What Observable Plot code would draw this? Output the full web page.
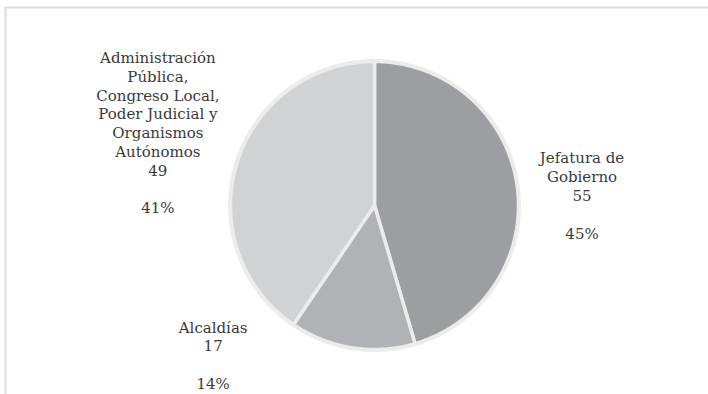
<!DOCTYPE html>
<html><head><meta charset="utf-8">
<script src="https://cdn.jsdelivr.net/npm/d3@7"></script>
<script src="https://cdn.jsdelivr.net/npm/@observablehq/plot@0.6"></script>
<style>body{margin:0;background:#fff}#chart svg{display:block}</style>
</head><body><div id="chart"></div>
<script>
// ---- data ----
const keys = ["Jefatura", "Alcaldias", "Admin"];
const categories = [
  "Jefatura de\nGobierno",
  "Alcaldías",
  "Administración\nPública,\nCongreso Local,\nPoder Judicial y\nOrganismos\nAutónomos"
];
const values = [55, 17, 49];
const percentLabels = ["45%", "14%", "41%"];
const colors = ["#9d9ea2", "#b1b2b5", "#d1d2d4"];

// ---- layout ----
const W = 708, H = 394, cx = 374, cy = 205, R = 144;
const labelNudge = [[65, 10], [-139, 7], [-79, -31]]; // pixel offsets from slice bisector on rim

const arcs = d3.pie().sort(null).value(d => d.value)(
  keys.map((k, i) => ({key: k, value: values[i], label: categories[i] + "\n" + values[i] + "\n\n" + percentLabels[i]}))
);

// slice outlines in unit-radius coordinates (angle 0 at 12 o'clock, clockwise)
const slicePts = [];
for (const a of arcs) {
  const k = a.data.key;
  slicePts.push({key: k, x: 0, y: 0});
  const n = Math.max(2, Math.ceil((a.endAngle - a.startAngle) / (Math.PI / 180)));
  for (let j = 0; j <= n; j++) {
    const t = a.startAngle + (a.endAngle - a.startAngle) * j / n;
    slicePts.push({key: k, x: Math.sin(t), y: Math.cos(t)});
  }
  slicePts.push({key: k, x: 0, y: 0});
}
const ring = d3.range(0, 361, 2).map(d => ({x: Math.sin(d * Math.PI / 180), y: Math.cos(d * Math.PI / 180)}));

const labelMarks = arcs.map((a, i) => {
  const mid = (a.startAngle + a.endAngle) / 2;
  return Plot.text([{x: Math.sin(mid), y: Math.cos(mid), t: a.data.label}], {
    x: "x", y: "y", text: "t",
    dx: labelNudge[i][0], dy: labelNudge[i][1],
    textAnchor: "middle", lineAnchor: "middle",
    fontFamily: "DejaVu Serif", fontSize: 15, lineHeight: 1.253,
    fill: "#3a3a3a"
  });
});

const chart = Plot.plot({
  width: W, height: H,
  margin: 0,
  x: {domain: [-cx / R, (W - cx) / R], range: [0, W], axis: null},
  y: {domain: [(cy - H) / R, cy / R], range: [H, 0], axis: null},
  color: {domain: keys, range: colors},
  marks: [
    Plot.frame({stroke: "#dcdcdc", strokeWidth: 2, insetLeft: 5, insetTop: 7, insetRight: -20, insetBottom: -20}),
    Plot.line(ring, {x: "x", y: "y", stroke: "#bdbdbd", strokeWidth: 5, strokeOpacity: 0.25}),
    Plot.line(ring, {x: "x", y: "y", stroke: "#bdbdbd", strokeWidth: 2.5, strokeOpacity: 0.35}),
    Plot.line(slicePts, {x: "x", y: "y", z: "key", fill: "key", stroke: "#ececec", strokeWidth: 3.5, strokeLinejoin: "miter"}),
    ...labelMarks
  ]
});
document.getElementById("chart").append(chart);
</script>
</body></html>
